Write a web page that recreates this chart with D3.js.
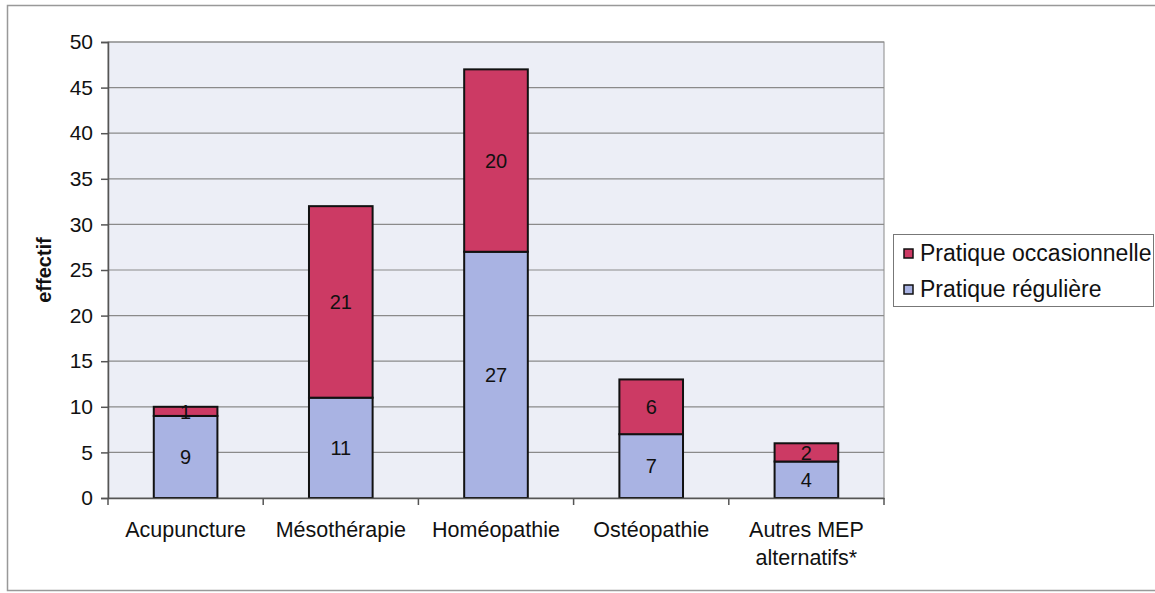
<!DOCTYPE html>
<html lang="fr">
<head>
    <meta charset="UTF-8">
    <title>Document</title>
    <style>
      body { margin: 0; background: #fff; }
      text { font-family: "Liberation Sans", Arial, sans-serif; fill: #111; }
    </style>
</head>
<body>
    <svg></svg>
    <script src="https://d3js.org/d3.v7.min.js"></script>
    <script>
      // categories and series
      const categories = ["Acupuncture", "Mésothérapie", "Homéopathie", "Ostéopathie", "Autres MEP\nalternatifs*"]
      const reguliere = [9, 11, 27, 7, 4]
      const occasionnelle = [1, 21, 20, 6, 2]
      const yTicks = [0, 5, 10, 15, 20, 25, 30, 35, 40, 45, 50]
      const seriesNames = ["Pratique occasionnelle", "Pratique régulière"]

      const width = 1155;
      const height = 593;
      const padding = { top: 42, right: 271, bottom: 95, left: 108 };
      const colors = { occ: "#cc3a64", reg: "#a9b3e3" };

      const rows = categories.map((c, i) => ({ name: c, reg: reguliere[i], occ: occasionnelle[i] }))

      const svg = d3.select('svg').attr('width', width).attr('height', height)

      // outer frame
      svg.append("rect")
          .attr("x", 7.5).attr("y", 5.5)
          .attr("width", width + 10).attr("height", 585)
          .attr("fill", "#fff")
          .attr("stroke", "#999")
          .attr("stroke-width", 1.5)

      const xScale = d3.scaleBand()
          .domain(categories)
          .range([padding.left, width - padding.right])
          .padding(0)

      const yScale = d3.scaleLinear()
          .domain([0, 50])
          .range([height - padding.bottom, padding.top])

      // plot background
      svg.append("rect")
          .attr("x", padding.left).attr("y", padding.top)
          .attr("width", width - padding.right - padding.left)
          .attr("height", yScale(0) - padding.top)
          .attr("fill", "#eceef6")
          .attr("stroke", "#8a8a8a")

      // gridlines
      svg.append("g")
        .selectAll("line")
        .data(yTicks.filter(d => d > 0))
        .join("line")
          .attr("x1", padding.left).attr("x2", width - padding.right)
          .attr("y1", d => yScale(d)).attr("y2", d => yScale(d))
          .attr("stroke", "#8a8a8a")
          .attr("stroke-width", 1.2)

      const stack = d3.stack().keys(["reg", "occ"])(rows)
      const barW = xScale.bandwidth() * 0.41

      svg.append("g")
        .selectAll("g")
        .data(stack)
        .join("g")
          .attr("fill", d => colors[d.key])
        .selectAll("rect")
        .data(d => d)
        .join("rect")
          .attr("x", d => xScale(d.data.name) + (xScale.bandwidth() - barW) / 2)
          .attr("y", d => yScale(d[1]))
          .attr("height", d => yScale(d[0]) - yScale(d[1]))
          .attr("width", barW)
          .attr("stroke", "#111")
          .attr("stroke-width", 2)

      // value labels
      svg.append("g")
        .selectAll("g")
        .data(stack)
        .join("g")
        .selectAll("text")
        .data(d => d)
        .join("text")
          .attr("x", d => xScale(d.data.name) + xScale.bandwidth() / 2)
          .attr("y", d => (yScale(d[0]) + yScale(d[1])) / 2)
          .attr("dy", "0.36em")
          .attr("text-anchor", "middle")
          .attr("font-size", 20)
          .text(d => d[1] - d[0])

      // y axis
      const yAxis = g => g
          .attr("transform", `translate(${padding.left},0)`)
          .call(d3.axisLeft(yScale).tickValues(yTicks).tickSize(7).tickPadding(8))
          .call(g => g.selectAll(".tick text").attr("font-size", 21).style("font-family", "Liberation Sans, Arial, sans-serif").attr("fill", "#111"))
          .call(g => g.selectAll("line, path").attr("stroke", "#555").attr("stroke-width", 1.5))

      // x axis
      const xAxis = g => g
          .attr("transform", `translate(0,${yScale(0)})`)
          .call(d3.axisBottom(xScale).tickSize(0).tickFormat(""))
          .call(g => g.selectAll("path").attr("stroke", "#555").attr("stroke-width", 1.5))

      svg.append("g").call(yAxis)
      svg.append("g").call(xAxis)

      // category separator ticks
      svg.append("g")
        .selectAll("line")
        .data(categories.concat([null]))
        .join("line")
          .attr("x1", (d, i) => i < categories.length ? xScale(d) : xScale.range()[1])
          .attr("x2", (d, i) => i < categories.length ? xScale(d) : xScale.range()[1])
          .attr("y1", yScale(0)).attr("y2", yScale(0) + 7)
          .attr("stroke", "#555").attr("stroke-width", 1.5)

      // category labels
      svg.append("g")
        .selectAll("text")
        .data(categories)
        .join("text")
          .attr("text-anchor", "middle")
          .attr("font-size", 21.5)
          .attr("transform", d => `translate(${xScale(d) + xScale.bandwidth() / 2},${yScale(0) + 39})`)
        .selectAll("tspan")
        .data(d => d.split("\n"))
        .join("tspan")
          .attr("x", 0)
          .attr("y", (d, i) => i * 28)
          .text(d => d)

      svg.append("text")
          .attr("transform", `translate(51,${(yScale(0) + yScale(50)) / 2}) rotate(-90)`)
          .attr("text-anchor", "middle")
          .attr("font-size", 20)
          .attr("font-weight", "bold")
          .text("effectif")

      // legend
      const legend = svg.append("g").attr("transform", "translate(893,234)")
      legend.append("rect")
          .attr("x", 0.5).attr("y", 0.5).attr("width", 260).attr("height", 72)
          .attr("fill", "#fff").attr("stroke", "#777")
      const item = legend.selectAll("g.item")
        .data(seriesNames)
        .join("g")
          .attr("class", "item")
          .attr("transform", (d, i) => `translate(11,${19 + i * 36})`)
      item.append("rect")
          .attr("x", 0).attr("y", -4).attr("width", 9).attr("height", 9)
          .attr("fill", (d, i) => i === 0 ? colors.occ : colors.reg)
          .attr("stroke", "#111").attr("stroke-width", 1.5)
      item.append("text")
          .attr("x", 16).attr("dy", "0.36em")
          .attr("font-size", 23)
          .text(d => d)
    </script>
</body>
</html>
